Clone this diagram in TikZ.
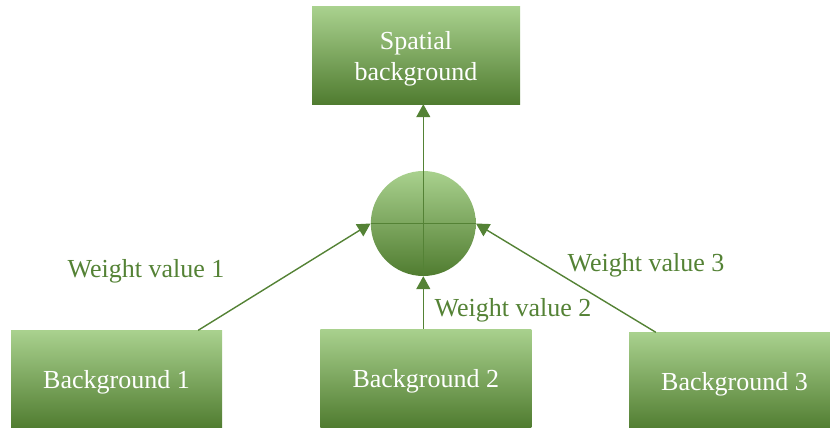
\documentclass[tikz,border=0pt]{standalone}
\usepackage{fontspec}
\setmainfont{Liberation Serif}
\usetikzlibrary{arrows.meta,calc}
\definecolor{glight}{RGB}{169,209,142}
\definecolor{gmid}{RGB}{114,176,72}
\definecolor{gdark}{RGB}{80,124,48}
\definecolor{gline}{RGB}{84,130,53}
\tikzset{
  greenbox/.style={rectangle, inner sep=0pt, minimum width=211pt, minimum height=98pt,
    top color=glight, middle color=gmid, bottom color=gdark},
  boxtext/.style={text=white, font=\fontsize{26}{31}\selectfont, align=center, inner sep=0pt},
  junction/.style={circle, inner sep=0pt, minimum size=105pt,
    top color=glight, middle color=gmid, bottom color=gdark},
  link/.style={draw=gline, line width=1.4pt, -{Triangle[length=13pt,width=14pt]}},
  crossline/.style={draw=gline, line width=1.4pt},
  weight/.style={text=gline, font=\fontsize{26}{31}\selectfont, inner sep=0pt}
}
\begin{document}
\begin{tikzpicture}[x=1pt,y=-1pt]
  \useasboundingbox (0,0) rectangle (830,428);
  % boxes
  \node[greenbox, minimum width=208pt, minimum height=97pt] (top) at (416,55.5) {};
  \node[greenbox] (b1) at (116.5,379.5) {};
  \node[greenbox] (b2) at (425.8,378) {};
  \node[greenbox] (b3) at (734.5,381.5) {};
  % box captions
  \node[boxtext, yshift=-3.5pt] (ttop) at (top) {Spatial\\background};
  \node[boxtext, yshift=-3pt] (tb1) at (b1) {Background 1};
  \node[boxtext, yshift=-3pt] (tb2) at (b2) {Background 2};
  \node[boxtext, yshift=-3pt] (tb3) at (b3) {Background 3};
  % summing junction
  \node[junction] (circ) at (423.3,223.5) {};
  \draw[crossline] (circ.north) -- (circ.south);
  \draw[crossline] (circ.west) -- (circ.east);
  % connector start points on the lower boxes
  \coordinate (s1) at ([xshift=-24pt]b1.north east);
  \coordinate (s3) at ([xshift=27pt]b3.north west);
  % connectors
  \draw[link] (circ.north) -- (circ.north |- top.south);
  \draw[link] (s1) -- (circ.west);
  \draw[link] (b2.north -| circ.south) -- (circ.south);
  \draw[link] (s3) -- (circ.east);
  % weights
  \node[weight] (w1) at (146,271) {Weight value 1};
  \node[weight] (w2) at (513,310) {Weight value 2};
  \node[weight] (w3) at (646,265) {Weight value 3};
\end{tikzpicture}
\end{document}
